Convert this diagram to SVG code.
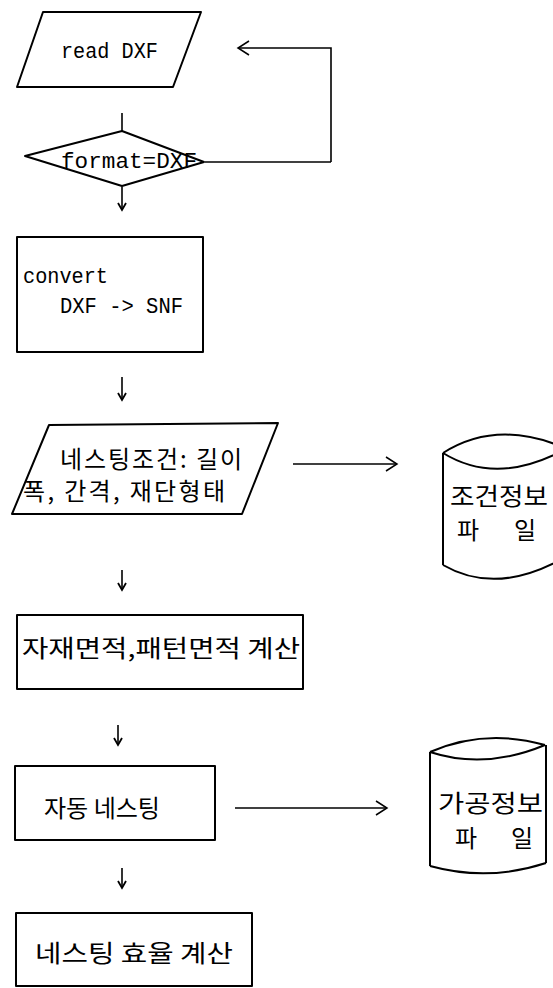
<svg xmlns="http://www.w3.org/2000/svg" width="553" height="988" viewBox="0 0 553 988">
<style>
.s{fill:none;stroke:#000;stroke-width:2;stroke-linejoin:round}
.c{fill:none;stroke:#000;stroke-width:1.6}
.m{font-family:"Liberation Mono","DejaVu Sans Mono",monospace;font-size:22px;fill:#000}
.k{font-family:"Noto Sans CJK KR","Noto Sans",sans-serif;font-size:24px;fill:#000}
</style>
<defs>
<marker id="dn" markerWidth="10" markerHeight="10" refX="8" refY="4.5" orient="auto" markerUnits="userSpaceOnUse"><path d="M1,0.5 L8,4.5 L1,8.5" fill="none" stroke="#000" stroke-width="1.8"/></marker>
<marker id="rt" markerWidth="14" markerHeight="18" refX="12" refY="8" orient="auto" markerUnits="userSpaceOnUse"><path d="M1,1 L12,8 L1,15" fill="none" stroke="#000" stroke-width="1.5"/></marker>
</defs>
<rect width="553" height="988" fill="#fff"/>
<g id="read">
<polygon class="s" points="43,12 201,12 173,87 17,87"/>
<text class="m" x="61" y="58" textLength="97" lengthAdjust="spacingAndGlyphs">read DXF</text>
</g>
<g id="decision">
<polygon class="s" points="25,156 122,131 204,162 122,186"/>
<text class="m" x="61" y="168" textLength="136" lengthAdjust="spacingAndGlyphs">format=DXF</text>
</g>
<g id="convert">
<rect class="s" x="17" y="237" width="186" height="115"/>
<text class="m" x="23" y="283" textLength="85" lengthAdjust="spacingAndGlyphs">convert</text>
<text class="m" x="60" y="313" textLength="123" lengthAdjust="spacingAndGlyphs">DXF -&gt; SNF</text>
</g>
<g id="condition">
<polygon class="s" points="49,425 278,423 242,514 12,514"/>
<text class="k" x="60" y="468" font-size="20" textLength="182">네스팅조건: 길이</text>
<text class="k" x="23" y="500" font-size="20" textLength="202">폭, 간격, 재단형태</text>
</g>
<g id="condfile">
<path class="s" d="M443,453 Q495,420 560,446 M443,453 Q495,485 560,452 M443,453 L443,565 M443,565 Q495,595 560,560"/>
<text class="k" x="450" y="505" font-size="21" textLength="98" lengthAdjust="spacingAndGlyphs">조건정보</text>
<text class="k" x="457" y="539" font-size="21">파</text>
<text class="k" x="514" y="539" font-size="21">일</text>
</g>
<g id="area">
<rect class="s" x="17" y="615" width="286" height="74"/>
<text class="k" x="22" y="657" textLength="278" lengthAdjust="spacingAndGlyphs">자재면적,패턴면적 계산</text>
</g>
<g id="auto">
<rect class="s" x="15" y="766" width="200" height="74"/>
<text class="k" x="44" y="817" textLength="116" lengthAdjust="spacingAndGlyphs">자동 네스팅</text>
</g>
<g id="procfile">
<path class="s" d="M430,752 Q485,728 545,745 M430,752 Q485,770 545,745 M430,752 L430,866 M546,745 L546,863 M430,866 Q488,882 546,863"/>
<text class="k" x="438" y="812" font-size="24" textLength="105" lengthAdjust="spacingAndGlyphs">가공정보</text>
<text class="k" x="455" y="847" font-size="24">파</text>
<text class="k" x="511" y="847" font-size="24">일</text>
</g>
<g id="efficiency">
<rect class="s" x="16" y="913" width="236" height="73"/>
<text class="k" x="35" y="962" textLength="198" lengthAdjust="spacingAndGlyphs">네스팅 효율 계산</text>
</g>
<g id="connectors">
<path class="c" d="M331,162 L205,162"/>
<path class="c" d="M331,162 L331,48 L238,48" marker-end="url(#rt)"/>
<path class="c" d="M122,113 L122,131"/>
<path class="c" d="M122,187 L122,210" marker-end="url(#dn)"/>
<path class="c" d="M122,377 L122,400" marker-end="url(#dn)"/>
<path class="c" d="M293,464 L397,464" marker-end="url(#rt)"/>
<path class="c" d="M122,570 L122,590" marker-end="url(#dn)"/>
<path class="c" d="M118,725 L118,745" marker-end="url(#dn)"/>
<path class="c" d="M235,808 L387,808" marker-end="url(#rt)"/>
<path class="c" d="M122,868 L122,888" marker-end="url(#dn)"/>
</g>
</svg>
